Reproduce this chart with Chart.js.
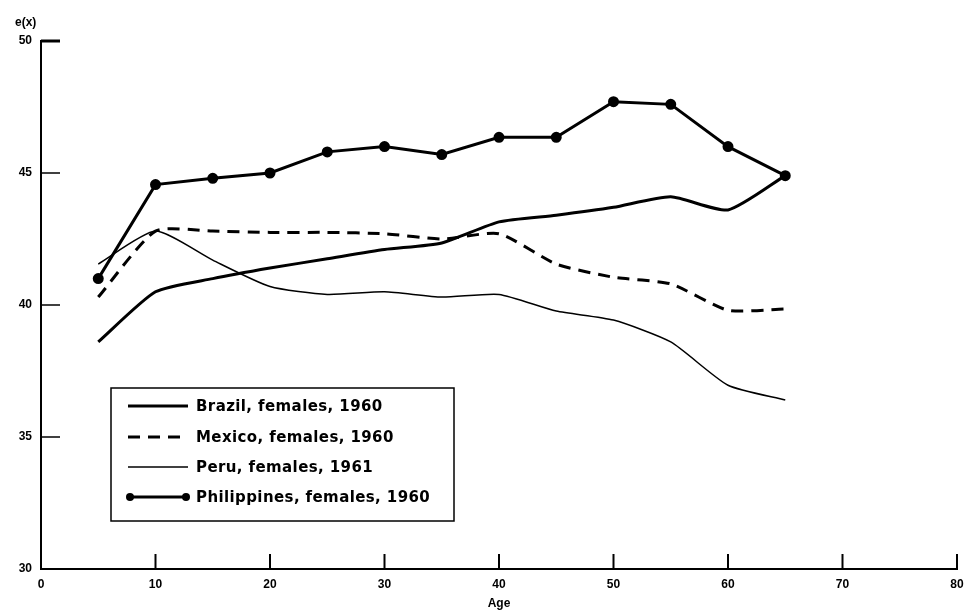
<!DOCTYPE html>
<html>
<head>
<meta charset="utf-8">
<script src="https://cdn.jsdelivr.net/npm/chart.js@4.4.1/dist/chart.umd.min.js"></script>
<style>
  html, body { margin: 0; padding: 0; background: #fff; }
  #wrap { width: 965px; height: 611px; }
</style>
</head>
<body>
<div id="wrap"><canvas id="lifeChart" width="965" height="611"></canvas></div>
<script>
// ages and life expectancy values e(x)
const ages = [5, 10, 15, 20, 25, 30, 35, 40, 45, 50, 55, 60, 65];
const brazil = [38.6, 40.5, 41.0, 41.4, 41.75, 42.1, 42.35, 43.15, 43.4, 43.7, 44.1, 43.6, 44.9];
const mexico = [40.3, 42.8, 42.8, 42.75, 42.75, 42.7, 42.5, 42.7, 41.55, 41.05, 40.8, 39.8, 39.85];
const peru = [41.55, 42.8, 41.7, 40.7, 40.4, 40.5, 40.3, 40.4, 39.77, 39.43, 38.6, 36.96, 36.4];
const philippines = [41.0, 44.56, 44.8, 45.0, 45.8, 46.0, 45.7, 46.35, 46.35, 47.7, 47.6, 46.0, 44.9];

const xTicks = [0, 10, 20, 30, 40, 50, 60, 70, 80];
const yTicks = [30, 35, 40, 45, 50];

const labels = [
  "Brazil, females, 1960",
  "Mexico, females, 1960",
  "Peru, females, 1961",
  "Philippines, females, 1960"
];

const toPts = vals => ages.map((a, i) => ({ x: a, y: vals[i] }));
const boldFont = "bold 12px 'Liberation Sans', Arial, sans-serif";

// inward tick marks, e(x) label and boxed legend
const decorations = {
  id: "decorations",
  afterDraw(chart) {
    const { ctx, chartArea, scales } = chart;
    const xs = scales.x, ys = scales.y;
    ctx.save();
    ctx.strokeStyle = "#000";
    ctx.lineCap = "butt";

    yTicks.slice(1).forEach(v => {
      const py = ys.getPixelForValue(v);
      ctx.lineWidth = v === 50 ? 3 : 1.5;
      ctx.beginPath();
      ctx.moveTo(chartArea.left, py);
      ctx.lineTo(chartArea.left + 19, py);
      ctx.stroke();
    });
    xTicks.slice(1).forEach(v => {
      const px = xs.getPixelForValue(v);
      ctx.lineWidth = 2;
      ctx.beginPath();
      ctx.moveTo(px, chartArea.bottom);
      ctx.lineTo(px, chartArea.bottom - 15);
      ctx.stroke();
    });

    ctx.fillStyle = "#000";
    ctx.font = boldFont;
    ctx.textBaseline = "middle";
    ctx.textAlign = "left";
    ctx.fillText("e(x)", 15, 23);

    // legend box
    const bx = 111, by = 388, bw = 343, bh = 133;
    ctx.lineWidth = 1.5;
    ctx.strokeRect(bx, by, bw, bh);
    const rows = [406, 437, 467, 497];
    ctx.font = "bold 15px 'DejaVu Sans', sans-serif";
    ctx.letterSpacing = "0.4px";
    chart.data.datasets.forEach((ds, i) => {
      const y = rows[i];
      ctx.lineWidth = ds.borderWidth;
      ctx.setLineDash(ds.borderDash || []);
      ctx.beginPath();
      ctx.moveTo(128, y);
      ctx.lineTo(188, y);
      ctx.stroke();
      ctx.setLineDash([]);
      if (ds.pointRadius > 0) {
        [130, 186].forEach(cx => {
          ctx.beginPath();
          ctx.arc(cx, y, 4, 0, Math.PI * 2);
          ctx.fill();
        });
      }
      ctx.fillText(ds.label, 196, y + 1);
    });
    ctx.restore();
  }
};

new Chart(document.getElementById("lifeChart"), {
  type: "line",
  data: {
    datasets: [
      { label: labels[0], data: toPts(brazil), borderColor: "#000", borderWidth: 3, pointRadius: 0, tension: 0.2 },
      { label: labels[1], data: toPts(mexico), borderColor: "#000", borderWidth: 3, borderDash: [12, 8], pointRadius: 0, tension: 0.2 },
      { label: labels[2], data: toPts(peru), borderColor: "#000", borderWidth: 1.5, pointRadius: 0, tension: 0.2 },
      { label: labels[3], data: toPts(philippines), borderColor: "#000", borderWidth: 3, pointRadius: 4,
        pointBackgroundColor: "#000", pointBorderColor: "#000", tension: 0 }
    ]
  },
  options: {
    responsive: false,
    animation: false,
    layout: { padding: { top: 41, right: 8, left: 0, bottom: 0 } },
    plugins: { legend: { display: false }, tooltip: { enabled: false } },
    scales: {
      x: {
        type: "linear", min: 0, max: 80,
        afterFit(scale) {
          scale.height = 42;
          scale.paddingRight = 0;
          scale.paddingLeft = 0;
        },
        afterBuildTicks(scale) { scale.ticks = xTicks.map(v => ({ value: v })); },
        grid: { drawOnChartArea: false, drawTicks: false },
        border: { display: true, color: "#000", width: 2 },
        ticks: { color: "#000", padding: 8, font: { family: "'Liberation Sans', Arial", size: 12, weight: "bold" } },
        title: { display: true, text: "Age", color: "#000", padding: 0,
                 font: { family: "'Liberation Sans', Arial", size: 12, weight: "bold" } }
      },
      y: {
        min: 30, max: 50,
        afterFit(scale) { scale.width = 41; },
        afterBuildTicks(scale) { scale.ticks = yTicks.map(v => ({ value: v })); },
        grid: { drawOnChartArea: false, drawTicks: false },
        border: { display: true, color: "#000", width: 2 },
        ticks: { color: "#000", padding: 9, font: { family: "'Liberation Sans', Arial", size: 12, weight: "bold" } }
      }
    }
  },
  plugins: [decorations]
});
</script>
</body>
</html>
